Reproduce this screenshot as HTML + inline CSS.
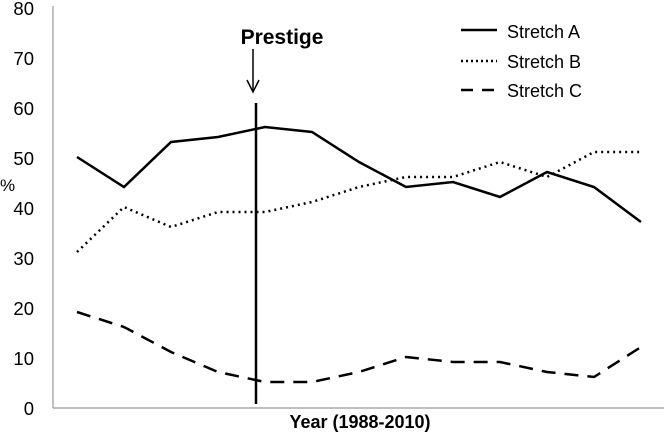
<!DOCTYPE html>
<html><head><style>body{margin:0;background:#fff}svg{display:block}text{font-family:"Liberation Sans",sans-serif;fill:#000}</style></head>
<body>
<svg width="664" height="432" viewBox="0 0 664 432">
<line x1="53" y1="6" x2="53" y2="408" stroke="#999" stroke-width="1.2"/>
<line x1="53" y1="408" x2="664" y2="408" stroke="#999" stroke-width="1.2"/>
<g font-size="18.5" text-anchor="end">
<text x="34" y="15">80</text><text x="34" y="65">70</text><text x="34" y="115">60</text>
<text x="34" y="165">50</text><text x="34" y="215">40</text><text x="34" y="265">30</text>
<text x="34" y="315">20</text><text x="34" y="365">10</text><text x="34" y="415">0</text>
</g>
<text x="0" y="191" font-size="17">%</text>
<text x="360" y="428" font-size="18" font-weight="bold" text-anchor="middle">Year (1988-2010)</text>
<text x="282" y="44" font-size="21" font-weight="bold" text-anchor="middle">Prestige</text>
<line x1="253" y1="49" x2="253" y2="91" stroke="#000" stroke-width="1.5"/>
<polyline points="247,80 253,92 259,80" fill="none" stroke="#000" stroke-width="1.5"/>
<line x1="256" y1="103" x2="256" y2="404" stroke="#000" stroke-width="2.5"/>
<polyline fill="none" stroke="#000" stroke-width="2.5" points="77,157 124,187 171,142 218,137 265,127 312,132 359,162 406,187 453,182 500,197 547,172 594,187 641,222"/>
<polyline fill="none" stroke="#000" stroke-width="2.5" stroke-dasharray="2,4" points="77,252 124,207 171,227 218,212 265,212 312,202 359,187 406,177 453,177 500,162 547,177 594,152 641,152"/>
<polyline fill="none" stroke="#000" stroke-width="2.5" stroke-dasharray="14,9" points="77,312 124,327 171,352 218,372 265,382 312,382 359,372 406,357 453,362 500,362 547,372 594,377 641,347"/>
<line x1="461" y1="30" x2="497" y2="30" stroke="#000" stroke-width="2.5"/>
<line x1="461" y1="61" x2="497" y2="61" stroke="#000" stroke-width="2.5" stroke-dasharray="2,3"/>
<line x1="461" y1="90" x2="497" y2="90" stroke="#000" stroke-width="2.5" stroke-dasharray="12,9"/>
<g font-size="18"><text x="507" y="38">Stretch A</text><text x="507" y="68">Stretch B</text><text x="507" y="97">Stretch C</text></g>
</svg>
</body></html>
